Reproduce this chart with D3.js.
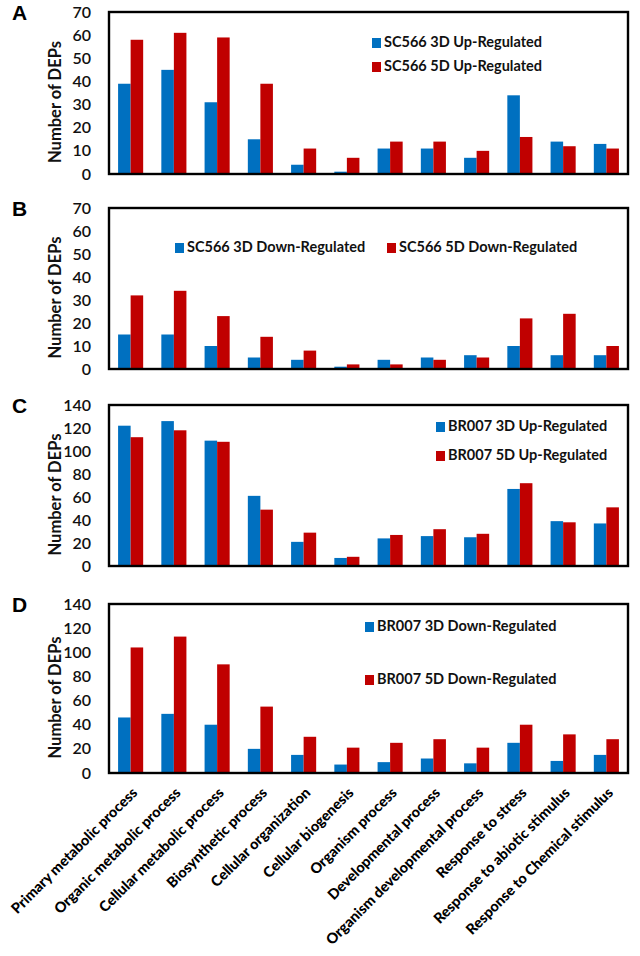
<!DOCTYPE html>
<html><head><meta charset="utf-8">
<script src="https://cdn.jsdelivr.net/npm/d3@7"></script>
<style>
html,body{margin:0;padding:0;background:#fff;}
svg{display:block;}
text{font-family:Lato,"Open Sans",sans-serif;}
</style></head>
<body>
<svg id="chart" width="640" height="956"></svg>
<script>
const categories = ["Primary metabolic process","Organic metabolic process","Cellular metabolic process","Biosynthetic process","Cellular organization","Cellular biogenesis","Organism process","Developmental process","Organism developmental process","Response to stress","Response to abiotic stimulus","Response to Chemical stimulus"];

const sc566Up3D = [39,45,31,15,4,1,11,11,7,34,14,13];
const sc566Up5D = [58,61,59,39,11,7,14,14,10,16,12,11];
const sc566Down3D = [15,15,10,5,4,1,4,5,6,10,6,6];
const sc566Down5D = [32,34,23,14,8,2,2,4,5,22,24,10];
const br007Up3D = [122,126,109,61,21,7,24,26,25,67,39,37];
const br007Up5D = [112,118,108,49,29,8,27,32,28,72,38,51];
const br007Down3D = [46,49,40,20,15,7,9,12,8,25,10,15];
const br007Down5D = [104,113,90,55,30,21,25,28,21,40,32,28];

const ticks70 = [0,10,20,30,40,50,60,70];
const ticks140 = [0,20,40,60,80,100,120,140];

const panelLetters = ["A","B","C","D"];
const legendNames = [
  ["SC566 3D Up-Regulated","SC566 5D Up-Regulated"],
  ["SC566 3D Down-Regulated","SC566 5D Down-Regulated"],
  ["BR007 3D Up-Regulated","BR007 5D Up-Regulated"],
  ["BR007 3D Down-Regulated","BR007 5D Down-Regulated"]
];
const yTitle = "Number of DEPs";

const panelData = [
  [sc566Up3D, sc566Up5D, ticks70],
  [sc566Down3D, sc566Down5D, ticks70],
  [br007Up3D, br007Up5D, ticks140],
  [br007Down3D, br007Down5D, ticks140]
];

// layout (pixels)
const left = 109, right = 628;
const layout = [
  {top:12, bottom:174, legend:[{x:372,y:43},{x:372,y:67}]},
  {top:208, bottom:369, legend:[{x:175,y:248},{x:387,y:248}]},
  {top:405, bottom:566, legend:[{x:436,y:427},{x:436,y:456}]},
  {top:604, bottom:773, legend:[{x:365,y:627},{x:365,y:680}]}
];
const colors = ["#0070C0","#C00000"];

const svg = d3.select("#chart");
const x = d3.scaleBand().domain(categories).range([left,right]).paddingInner(0.42).paddingOuter(0.21);
const x1 = d3.scaleBand().domain([0,1]).range([0,x.bandwidth()]);

panelData.forEach((pd, i) => {
  const L = layout[i];
  const ticks = pd[2];
  const y = d3.scaleLinear().domain([0, ticks[ticks.length-1]]).range([L.bottom, L.top]);
  const g = svg.append("g");

  // bars
  [0,1].forEach(s => {
    g.selectAll(null).data(pd[s]).enter().append("rect")
      .attr("x", (d,j) => x(categories[j]) + x1(s))
      .attr("y", d => y(d))
      .attr("width", x1.bandwidth())
      .attr("height", d => y(0) - y(d))
      .attr("fill", colors[s]);
  });

  // box
  g.append("rect").attr("x", left).attr("y", L.top)
    .attr("width", right-left).attr("height", L.bottom-L.top)
    .attr("fill","none").attr("stroke","#000").attr("stroke-width",2.4);

  // y axis
  const ay = g.append("g").attr("transform",`translate(${left},0)`)
    .call(d3.axisLeft(y).tickValues(ticks).tickSize(0).tickPadding(18).tickFormat(d3.format("d")));
  ay.select(".domain").remove();
  ay.selectAll("text").attr("font-size","16px").attr("fill","#111")
    .style("font-family","Lato, sans-serif").attr("font-weight","600");

  // y title
  g.append("text")
    .attr("transform",`translate(57,${(L.top+L.bottom)/2 + 9}) rotate(-90)`)
    .attr("text-anchor","middle").attr("dominant-baseline","middle")
    .attr("font-size","16.5px").attr("font-weight","bold").attr("fill","#111")
    .text(yTitle);

  // panel letter
  g.append("text").attr("x",12).attr("y",L.top + 8)
    .style("font-family","Arial, 'Liberation Sans', sans-serif")
    .attr("font-size","21px").attr("font-weight","bold").attr("fill","#000")
    .text(panelLetters[i]);

  // legend
  legendNames[i].forEach((name, s) => {
    const p = L.legend[s];
    g.append("rect").attr("x", p.x).attr("y", p.y-5).attr("width",9).attr("height",10).attr("fill",colors[s]);
    g.append("text").attr("x", p.x+12).attr("y", p.y).attr("dominant-baseline","middle")
      .attr("font-size","14.5px").attr("font-weight","bold").attr("fill","#111").text(name);
  });

  // x axis labels only on last panel
  const ax = g.append("g").attr("transform",`translate(0,${L.bottom})`)
    .call(d3.axisBottom(x).tickSize(0).tickPadding(0).tickFormat(i === 3 ? (d => d) : (() => "")));
  ax.select(".domain").remove();
  if (i === 3) {
    ax.selectAll(".tick text")
      .attr("text-anchor","end")
      .attr("transform","translate(4,17) rotate(-45)")
      .attr("dy","0.35em")
      .attr("font-size","14.5px").attr("font-weight","900").attr("fill","#000")
      .style("font-family","Lato, sans-serif");
  }
});
</script>
</body></html>
